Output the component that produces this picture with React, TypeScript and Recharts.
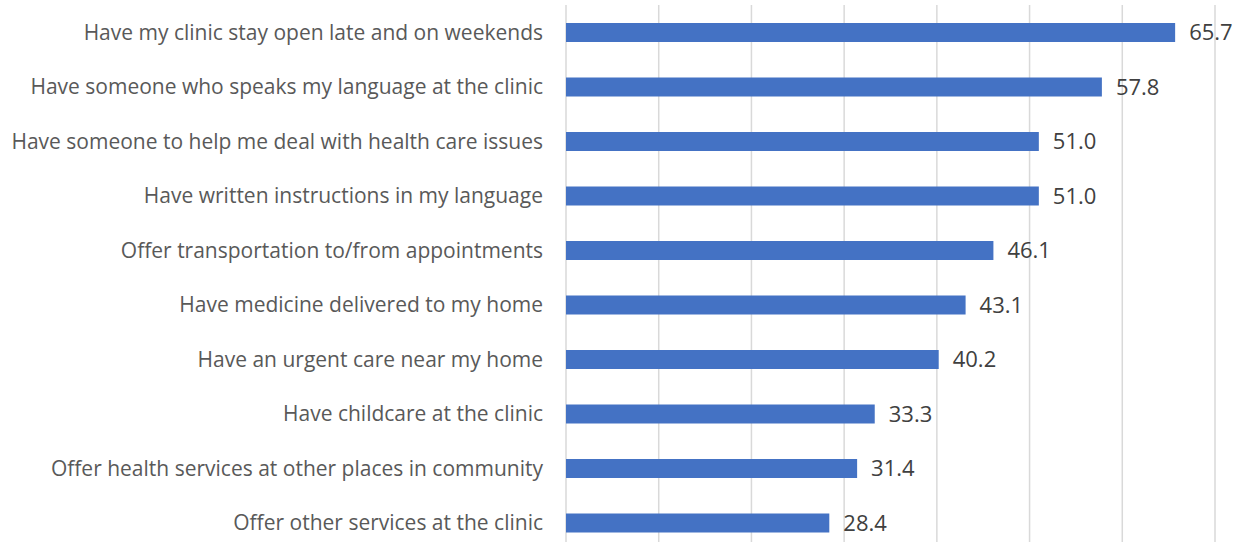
import React from "react";
import { BarChart, Bar, XAxis, YAxis, CartesianGrid, LabelList } from "recharts";

const categories = [
  "Have my clinic stay open late and on weekends",
  "Have someone who speaks my language at the clinic",
  "Have someone to help me deal with health care issues",
  "Have written instructions in my language",
  "Offer transportation to/from appointments",
  "Have medicine delivered to my home",
  "Have an urgent care near my home",
  "Have childcare at the clinic",
  "Offer health services at other places in community",
  "Offer other services at the clinic",
];
const values = [65.7, 57.8, 51.0, 51.0, 46.1, 43.1, 40.2, 33.3, 31.4, 28.4];
const xTicks = [0, 10, 20, 30, 40, 50, 60, 70];

const data = categories.map((c, i) => ({ name: c, value: values[i] }));

export default function App() {
  return (
    <div style={{ position: "absolute", left: 0, top: 0, background: "#fff" }}>
      <BarChart
        width={1245}
        height={560}
        data={data}
        layout="vertical"
        margin={{ top: 5, right: 30, bottom: 10, left: 0 }}
        barCategoryGap={0}
      >
        <CartesianGrid horizontal={false} vertical={true} stroke="#D9D9D9" strokeWidth={1.5} />
        <XAxis
          type="number"
          domain={[0, 70]}
          ticks={xTicks}
          hide
        />
        <YAxis
          type="category"
          dataKey="name"
          width={566}
          axisLine={false}
          tickLine={false}
          tickSize={0}
          tickMargin={23}
          interval={0}
          tick={{ fill: "#595959", fontSize: 21, fontFamily: "Open Sans" }}
        />
        <Bar dataKey="value" fill="#4472C4" barSize={19} isAnimationActive={false}>
          <LabelList
            dataKey="value"
            position="right"
            offset={14}
            formatter={(v: number) => v.toFixed(1)}
            style={{ fill: "#404040", fontSize: 22, fontFamily: "Open Sans" }}
          />
        </Bar>
      </BarChart>
    </div>
  );
}
